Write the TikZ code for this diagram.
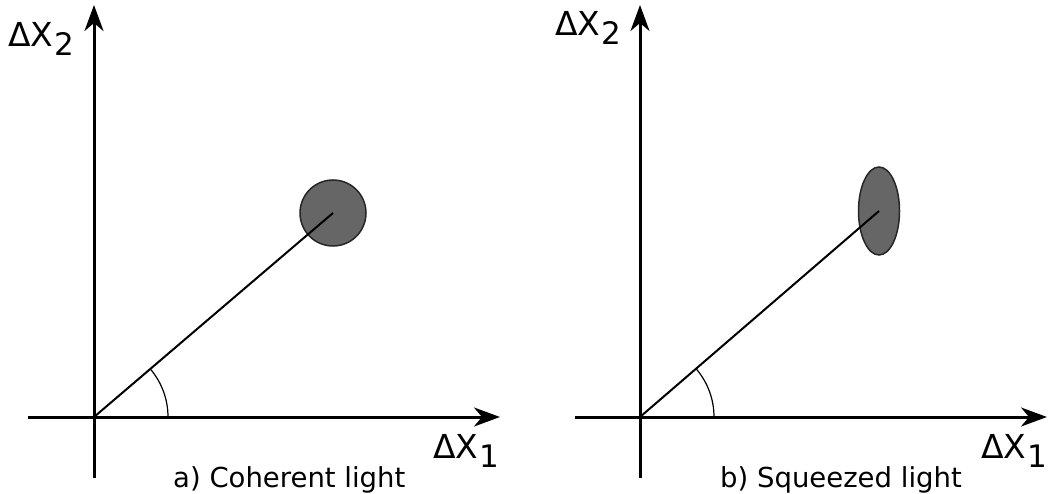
\documentclass[tikz,border=0pt]{standalone}
\usepackage{fontspec}
\setmainfont{DejaVu Sans}
\usetikzlibrary{arrows.meta,shapes.geometric}
\newcommand\qsub[1]{\kern1pt\raisebox{-9pt}{\fontsize{31}{31}\selectfont #1}}
\begin{document}
\begin{tikzpicture}[x=1pt,y=-1pt,
  axis/.style={line width=3pt,-{Stealth[length=26pt,width=19pt,inset=8pt]}},
  ray/.style={line width=2pt},
  angarc/.style={line width=1.2pt},
  blob/.style={draw=black!85,line width=1.5pt,fill=black!60,inner sep=0pt},
  lab/.style={anchor=base west,inner sep=0pt,font=\fontsize{33}{33}\selectfont},
  captext/.style={anchor=base west,inner sep=0pt,font=\fontsize{27.5}{27.5}\selectfont}]
\useasboundingbox (0,0) rectangle (1056,494);

% ---------- panel a ----------
\coordinate (O1) at (94,417);
\coordinate (Ybot1) at (94,478);
\coordinate (Ytop1) at (94,5);
\coordinate (Xl1) at (28,417);
\coordinate (Xr1) at (500,417);
\draw[axis] (Ybot1) -- (Ytop1);
\draw[axis] (Xl1) -- (Xr1);
\node[blob,circle,minimum size=66pt] (S1) at (333,213) {};
\draw[ray] (O1) -- (S1.center);
\draw[angarc] ([xshift=74pt]O1) arc[start angle=0,end angle=40.5,radius=74pt];
\node[lab] (Y1) at (8,47) {ΔX\qsub{2}};
\node[lab] (X1) at (433,458) {ΔX\qsub{1}};
\node[captext] (C1) at (173,487) {a) Coherent light};

% ---------- panel b ----------
\coordinate (O2) at (640,417);
\coordinate (Ybot2) at (640,478);
\coordinate (Ytop2) at (640,5);
\coordinate (Xl2) at (575,417);
\coordinate (Xr2) at (1047,417);
\draw[axis] (Ybot2) -- (Ytop2);
\draw[axis] (Xl2) -- (Xr2);
\node[blob,ellipse,minimum width=41pt,minimum height=88pt] (S2) at (879,211) {};
\draw[ray] (O2) -- (S2.center);
\draw[angarc] ([xshift=74pt]O2) arc[start angle=0,end angle=40.5,radius=74pt];
\node[lab] (Y2) at (555,36) {ΔX\qsub{2}};
\node[lab] (X2) at (981,458) {ΔX\qsub{1}};
\node[captext] (C2) at (720,487) {b) Squeezed light};
\end{tikzpicture}
\end{document}
